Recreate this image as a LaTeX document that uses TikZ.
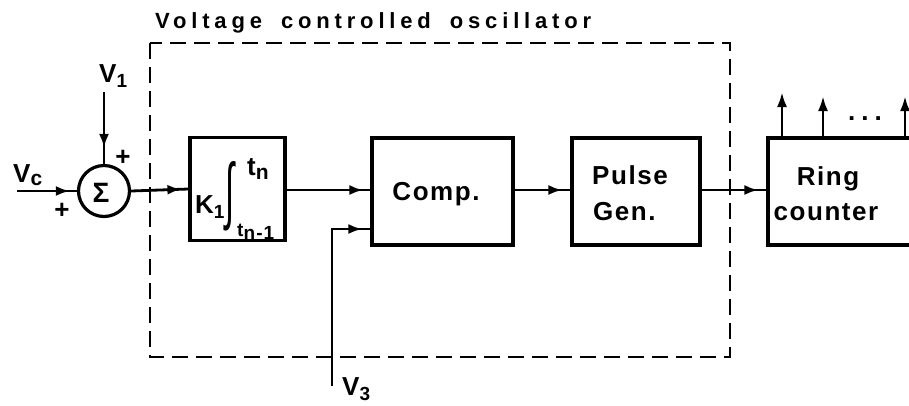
\documentclass[tikz,border=0pt]{standalone}
\usepackage{fontspec}
\usepackage{graphicx}
\setmainfont{Liberation Sans}
\newfontfamily\lblfont{Liberation Sans Bold}[LetterSpace=6]
\newfontfamily\ttlfont{Liberation Sans Bold}[LetterSpace=22]
\newfontfamily\intfont{Liberation Sans}
\usetikzlibrary{arrows.meta,decorations.markings}
\tikzset{
  blk/.style={draw, line width=3.2pt, inner sep=0pt},
  wire/.style={line width=2.8pt},
  tip/.style={postaction={decorate}, decoration={markings,
     mark=at position -#1 with {\arrow{Latex[length=14pt,width=10pt]}}}},
  uptip/.style={-{Latex[length=15pt,width=10pt]}},
  lbl/.style={inner sep=0pt, font=\lblfont\fontsize{26}{30}\selectfont},
  sub/.style={inner sep=0pt, font=\lblfont\fontsize{19}{22}\selectfont},
  vco/.style={line width=2.6pt, dash pattern=on 16pt off 8pt},
}
\begin{document}
\begin{tikzpicture}[x=1pt,y=-1pt]
\useasboundingbox (0,0) rectangle (909,405);
% VCO dashed frame
\draw[vco] (150,43) rectangle (730,357);
\node[inner sep=0pt, anchor=base west, font=\ttlfont\fontsize{22}{26}\selectfont] (title) at (155,28) {Voltage\hspace{8pt} controlled\hspace{8pt} oscillator};
% summing junction
\node[draw, circle, line width=3.2pt, minimum size=51pt, inner sep=0pt] (sum) at (104,191) {};
\node[inner sep=0pt, font=\lblfont\fontsize{28}{30}\selectfont] (sig) at (101,193) {Σ};
\coordinate (vcin) at (17,191);
\coordinate (v1in) at (104,92);
\draw[wire, tip=7pt] (vcin) -- (sum.west);
\draw[wire, tip=16pt] (v1in) -- (sum.north);
\node[lbl, anchor=base west] (vc) at (13,182) {V\raisebox{-3pt}{\fontsize{21}{22}\selectfont c}};
\node[lbl, anchor=base west] (v1) at (99,82) {V\raisebox{-5pt}{\fontsize{19}{22}\selectfont 1}};
\node[lbl] (p1) at (62,211) {+};
\node[lbl] (p2) at (123,158) {+};
% integrator
\node[blk, minimum width=95pt, minimum height=103pt] (int) at (237.5,189) {};
\node[lbl, anchor=base west] (k1) at (195,213) {K\raisebox{-5pt}{\fontsize{19}{22}\selectfont 1}};
\node[inner sep=0pt] (intg) at (230,196) {\resizebox{9pt}{54pt}{\intfont ∫}};
\node[lbl, anchor=base west] (tn) at (247,175) {t\raisebox{-4pt}{\fontsize{21}{22}\selectfont n}};
\node[sub, anchor=base west] (tn1) at (237,236) {t\raisebox{-3pt}{n-1}};
\draw[wire, tip=7pt] (sum.east) -- (int.west);
% comparator
\node[blk, minimum width=141pt, minimum height=107pt] (comp) at (442.5,191.5) {};
\node[lbl, anchor=base] (compt) at (436,200) {Comp.};
\draw[wire, tip=7pt] (int.east |- 0,190) -- (comp.west |- 0,190);
\coordinate (v3in) at (332,386);
\coordinate (v3c) at (332,229);
\draw[wire, tip=8pt] (v3in) -- (v3c) -- (v3c -| comp.west);
\node[lbl, anchor=base west] (v3) at (342,395) {V\raisebox{-5pt}{\fontsize{19}{22}\selectfont 3}};
% pulse generator
\node[blk, minimum width=128pt, minimum height=107pt] (pg) at (636,191.5) {};
\node[lbl, anchor=base west] (pgt1) at (592,184) {Pulse};
\node[lbl, anchor=base west] (pgt2) at (593,220) {Gen.};
\draw[wire, tip=8pt] (comp.east |- 0,190) -- (pg.west |- 0,190);
% ring counter
\node[blk, minimum width=160pt, minimum height=107pt] (ring) at (848,191.5) {};
\node[lbl, anchor=base] (ringt1) at (828,185) {Ring};
\node[lbl, anchor=base] (ringt2) at (826,220) {counter};
\draw[wire, tip=8pt] (pg.east |- 0,190) -- (ring.west |- 0,190);
% outputs
\coordinate (o1) at (782,92);
\coordinate (o2) at (823,96);
\coordinate (o3) at (905,96);
\draw[wire, uptip] (o1 |- ring.north) -- (o1);
\draw[wire, uptip] (o2 |- ring.north) -- (o2);
\draw[wire, uptip] (o3 |- ring.north) -- (o3);
\node[lbl, anchor=base] (dots) at (865,120) {.\hspace{6pt}.\hspace{6pt}.};
\end{tikzpicture}
\end{document}
